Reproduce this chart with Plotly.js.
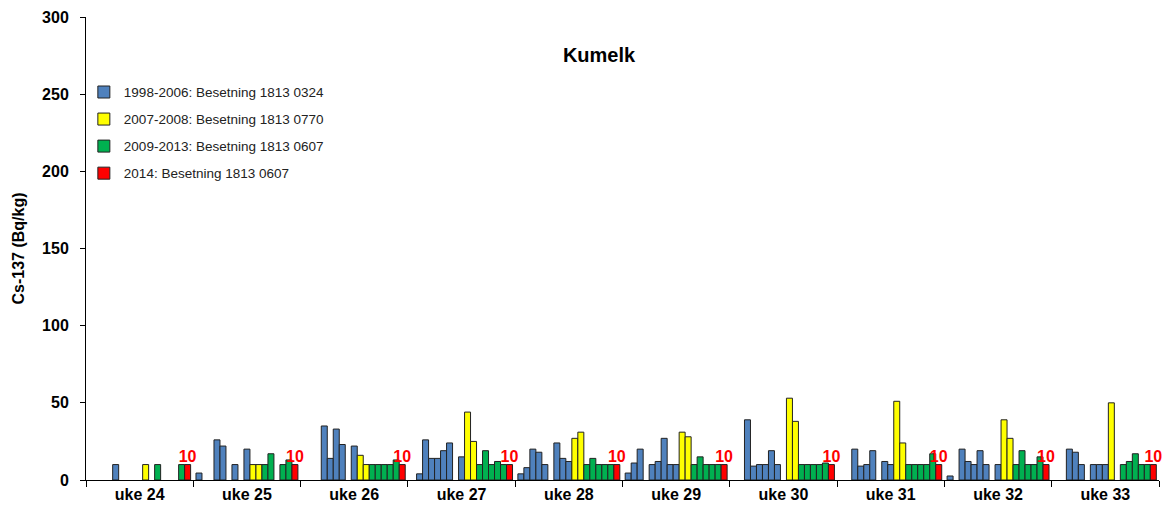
<!DOCTYPE html>
<html>
<head>
<meta charset="utf-8">
<script src="https://cdn.plot.ly/plotly-3.0.1.min.js"></script>
<style>html,body{margin:0;padding:0;background:#fff;}#chart{width:1163px;height:512px;}</style>
</head>
<body>
<div id="chart"></div>
<script>
// Categories (weeks)
var weeks = ['uke 24','uke 25','uke 26','uke 27','uke 28','uke 29','uke 30','uke 31','uke 32','uke 33'];
// Years 1998..2014 (one bar per year inside every week group)
var years = [1998,1999,2000,2001,2002,2003,2004,2005,2006,2007,2008,2009,2010,2011,2012,2013,2014];

// Cs-137 (Bq/kg) per week, ordered by year 1998..2014 (null = no measurement)
var uke24 = [null,null,null,null,10,null,null,null,null,10,null,10,null,null,null,10,10];
var uke25 = [4.5,null,null,26,22,null,10,null,20,10,10,10,17,null,10,13,10];
var uke26 = [null,null,null,35,14,33,23,null,22,16,10,10,10,10,10,13,10];
var uke27 = [null,4,26,14,14,19,24,null,15,44,25,10,19,10,12,10,10];
var uke28 = [4,8,20,18,10,null,24,14,12,27,31,10,14,10,10,10,10];
var uke29 = [4.5,11,20,null,10,12,27,10,10,31,28,10,15,10,10,10,10];
var uke30 = [null,null,39,9,10,10,19,10,null,53,38,10,10,10,10,11,10];
var uke31 = [null,null,20,9,10,19,null,12,10,51,24,10,10,10,10,17,10];
var uke32 = [2.6,null,20,12,10,19,10,null,10,39,27,10,19,10,10,15,10];
var uke33 = [null,null,20,18,10,null,10,10,10,50,null,10,12,17,10,10,10];

// Periods (legend entries)
var periodNames = ['1998-2006: Besetning 1813 0324','2007-2008: Besetning 1813 0770','2009-2013: Besetning 1813 0607','2014: Besetning 1813 0607'];
var periodStart = [1998,2007,2009,2014];
var periodColors = ['#4F81BD','#FFFF00','#00B050','#FF0000'];

var weekData = [uke24,uke25,uke26,uke27,uke28,uke29,uke30,uke31,uke32,uke33];

function periodOf(y){
  var p = 0;
  for (var k=0;k<periodStart.length;k++){ if (y>=periodStart[k]) p=k; }
  return p;
}

var traces = [];
years.forEach(function(yr, i){
  var p = periodOf(yr);
  var t = {
    type:'bar',
    x: weeks,
    y: weekData.map(function(w){ return w[i]; }),
    name: periodNames[p],
    legendgroup: 'p'+p,
    showlegend: yr === periodStart[p],
    marker:{color: periodColors[p], line:{color:'#222', width:1}},
    hoverinfo:'x+y+name'
  };
  if (yr === 2014){
    t.texttemplate = '%{y}';
    t.textposition = 'outside';
    t.textangle = 0;
    t.constraintext = 'none';
    t.cliponaxis = false;
    t.textfont = {family:'Arial, "Liberation Sans", sans-serif', size:16, color:'#FF0000', weight:'bold'};
  }
  traces.push(t);
});

var font = 'Arial, "Liberation Sans", sans-serif';
var layout = {
  width:1163, height:512,
  margin:{l:86, r:4, t:17, b:32, pad:0},
  paper_bgcolor:'#fff', plot_bgcolor:'#fff',
  font:{family:font, color:'#000'},
  barmode:'group', bargap:0.05, bargroupgap:0,
  title:{text:'Kumelk', font:{family:font, size:20, color:'#000', weight:'bold'}, x:599/1163, xanchor:'center', xref:'container', y:1-55/512, yanchor:'middle', yref:'container'},
  xaxis:{type:'category', tickson:'boundaries', ticks:'outside', ticklen:6, tickcolor:'#000', showline:true, linecolor:'#000', linewidth:1, showgrid:false, zeroline:false, tickfont:{family:font, size:16, color:'#000', weight:'bold'}},
  yaxis:{range:[0,300], dtick:50, ticks:'outside', ticklen:5, tickcolor:'#000', showline:true, linecolor:'#000', linewidth:1, showgrid:false, zeroline:false, ticklabelstandoff:8,
    tickfont:{family:font, size:16, color:'#000', weight:'bold'},
    title:{text:'Cs-137 (Bq/kg)', standoff:13, font:{family:font, size:16, color:'#000', weight:'bold'}}},
  legend:{x:-0.002, xanchor:'left', y:0.871, yanchor:'top', bgcolor:'rgba(0,0,0,0)', traceorder:'grouped', tracegroupgap:6.5, font:{family:font, size:13.5, color:'#222'}},
  showlegend:true
};

Plotly.newPlot('chart', traces, layout, {displayModeBar:false, staticPlot:true});
</script>
</body>
</html>
